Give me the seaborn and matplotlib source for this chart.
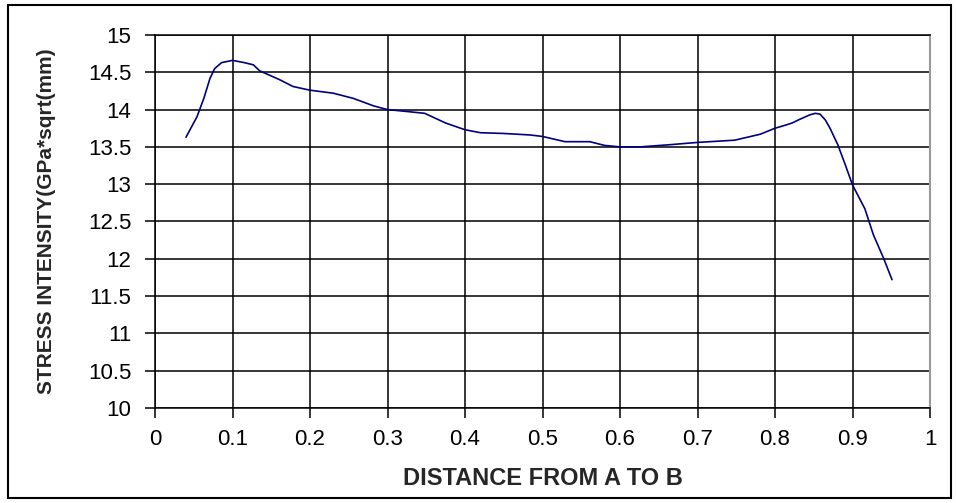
import seaborn as sns
import matplotlib.pyplot as plt
from matplotlib.patches import Rectangle
import numpy as np

# Values
distance = [0.040, 0.054, 0.063, 0.071, 0.077, 0.086, 0.100, 0.115, 0.127, 0.135,
            0.148, 0.161, 0.178, 0.200, 0.230, 0.256, 0.282, 0.300, 0.320, 0.348,
            0.375, 0.400, 0.420, 0.450, 0.484, 0.500, 0.529, 0.561, 0.580, 0.600,
            0.626, 0.665, 0.700, 0.748, 0.781, 0.800, 0.813, 0.822, 0.832, 0.845,
            0.852, 0.858, 0.865, 0.871, 0.881, 0.890, 0.900, 0.916, 0.927, 0.940,
            0.951]
stress = [13.63, 13.90, 14.15, 14.42, 14.55, 14.63, 14.66, 14.63, 14.60, 14.52,
          14.46, 14.40, 14.31, 14.26, 14.22, 14.15, 14.05, 14.00, 13.98, 13.95,
          13.82, 13.73, 13.69, 13.68, 13.66, 13.64, 13.57, 13.57, 13.52, 13.50,
          13.50, 13.53, 13.56, 13.59, 13.67, 13.75, 13.79, 13.82, 13.87, 13.93,
          13.95, 13.94, 13.86, 13.75, 13.53, 13.28, 12.99, 12.67, 12.32, 12.01,
          11.72]

x_ticks = np.arange(0, 11) / 10
y_ticks = np.arange(20, 31) / 2

sns.set_style("white")
plt.rcParams['font.family'] = ['Liberation Sans', 'DejaVu Sans']

fig = plt.figure(figsize=(9.56, 5.03), dpi=100)
ax = fig.add_axes([155 / 956, 95 / 503, 775 / 956, 373 / 503])

sns.lineplot(x=distance, y=stress, ax=ax, color='#000080', linewidth=1.2,
             sort=False, estimator=None)

ax.set_xlim(0, 1)
ax.set_ylim(10, 15)
ax.set_xticks(x_ticks)
ax.set_xticklabels(['0'] + [f'{v:g}' for v in x_ticks[1:]])
ax.set_yticks(y_ticks)
ax.set_yticklabels([f'{v:g}' for v in y_ticks])

# black grid like the original spreadsheet chart
ax.grid(True, color='black', linewidth=1.1)
ax.set_axisbelow(True)

for side in ['left', 'bottom', 'top']:
    ax.spines[side].set_color('black')
    ax.spines[side].set_linewidth(1.1)
ax.spines['right'].set_color('#999999')
ax.spines['right'].set_linewidth(1.5)

ax.tick_params(axis='both', which='major', labelsize=16, colors='black',
               length=7, width=1.1, direction='out')
ax.tick_params(axis='x', pad=8, bottom=True)
ax.tick_params(axis='y', pad=10, left=True)

ax.set_xlabel('DISTANCE FROM A TO B', fontsize=17, fontweight='bold')
ax.set_ylabel('STRESS INTENSITY(GPa*sqrt(mm)', fontsize=15, fontweight='bold')
ax.xaxis.set_label_coords(0.5, (408 - 467) / 373)
ax.yaxis.set_label_coords((56 - 155) / 775, 0.5)

# outer frame around the whole chart
fig.patches.append(Rectangle((8 / 956, 5 / 503), 943 / 956, 493 / 503,
                             transform=fig.transFigure, fill=False,
                             edgecolor='black', linewidth=1.5))

plt.savefig('out.png', dpi=100)
